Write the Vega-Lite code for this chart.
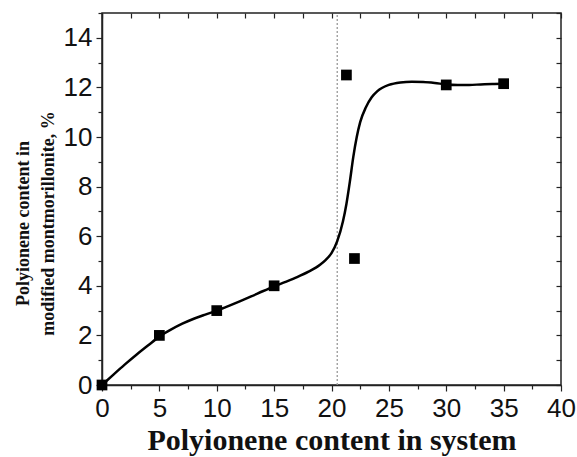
{
  "$schema": "https://vega.github.io/schema/vega-lite/v6.json",
  "width": 459,
  "height": 372,
  "autosize": {"type": "none"},
  "padding": {"left": 102, "top": 13, "right": 16, "bottom": 72},
  "background": "white",
  "config": {
    "view": {"stroke": "#222", "strokeWidth": 1.5},
    "axis": {
      "grid": false,
      "labelFlush": false,
      "domainColor": "#222",
      "domainWidth": 1.5,
      "tickColor": "#222",
      "tickWidth": 1.2,
      "labelFont": "Liberation Sans",
      "labelFontSize": 26,
      "labelColor": "#111",
      "titleFont": "Liberation Serif",
      "titleFontWeight": "bold",
      "titleColor": "#111"
    }
  },
  "datasets": {
    "curve": [
      {"x": 0, "y": 0}, {"x": 1, "y": 0.42}, {"x": 2, "y": 0.83}, {"x": 3, "y": 1.22},
      {"x": 4, "y": 1.59}, {"x": 5, "y": 1.95}, {"x": 6, "y": 2.23}, {"x": 7, "y": 2.47},
      {"x": 8, "y": 2.67}, {"x": 9, "y": 2.84}, {"x": 10, "y": 3.0}, {"x": 11, "y": 3.18},
      {"x": 12, "y": 3.37}, {"x": 13, "y": 3.57}, {"x": 14, "y": 3.78}, {"x": 15, "y": 3.98},
      {"x": 16, "y": 4.16}, {"x": 17, "y": 4.35}, {"x": 18, "y": 4.57}, {"x": 19, "y": 4.85},
      {"x": 19.5, "y": 5.05}, {"x": 20, "y": 5.32}, {"x": 20.5, "y": 5.8}, {"x": 21, "y": 6.6},
      {"x": 21.3, "y": 7.3}, {"x": 21.6, "y": 8.2}, {"x": 21.9, "y": 9.2}, {"x": 22.2, "y": 10.0},
      {"x": 22.5, "y": 10.6}, {"x": 23, "y": 11.2}, {"x": 23.5, "y": 11.6}, {"x": 24, "y": 11.85},
      {"x": 25, "y": 12.1}, {"x": 26, "y": 12.2}, {"x": 27, "y": 12.23}, {"x": 28, "y": 12.22},
      {"x": 29, "y": 12.18}, {"x": 30, "y": 12.12}, {"x": 31, "y": 12.1}, {"x": 32, "y": 12.1},
      {"x": 33, "y": 12.12}, {"x": 34, "y": 12.14}, {"x": 35, "y": 12.15}
    ],
    "points": [
      {"x": 0, "y": 0}, {"x": 5, "y": 2.0}, {"x": 10, "y": 3.0}, {"x": 15, "y": 4.0},
      {"x": 21.3, "y": 12.5}, {"x": 22, "y": 5.1}, {"x": 30, "y": 12.1}, {"x": 35, "y": 12.15}
    ],
    "marker": [{"x": 20.5, "y": 0, "y2": 15}]
  },
  "resolve": {"axis": {"x": "independent", "y": "independent"}},
  "layer": [
    {
      "data": {"name": "marker"},
      "mark": {"type": "rule", "color": "#999", "strokeWidth": 1.3, "strokeDash": [2, 2]},
      "encoding": {
        "x": {"field": "x", "type": "quantitative", "scale": {"domain": [0, 40], "nice": false},
          "axis": {"orient": "top", "labels": false, "title": null, "domain": false, "values": [0, 2.5, 5, 7.5, 10, 12.5, 15, 17.5, 20, 22.5, 25, 27.5, 30, 32.5, 35, 37.5, 40], "tickSize": -5}},
        "y": {"field": "y", "type": "quantitative", "scale": {"domain": [0, 15], "nice": false},
          "axis": {"orient": "right", "labels": false, "title": null, "domain": false, "values": [0, 1, 2, 3, 4, 5, 6, 7, 8, 9, 10, 11, 12, 13, 14, 15], "tickSize": -5}},
        "y2": {"field": "y2"}
      }
    },
    {
      "data": {"name": "curve"},
      "mark": {"type": "line", "color": "#000", "strokeWidth": 2.5, "interpolate": "monotone"},
      "encoding": {
        "x": {"field": "x", "type": "quantitative",
          "axis": {"orient": "bottom", "values": [0, 5, 10, 15, 20, 25, 30, 35, 40], "tickSize": 6, "labelPadding": 4,
            "title": "Polyionene content in system", "titleFontSize": 30, "titlePadding": 4}},
        "y": {"field": "y", "type": "quantitative",
          "axis": {"orient": "left", "values": [0, 2, 4, 6, 8, 10, 12, 14], "tickSize": 6, "labelPadding": 4,
            "title": ["Polyionene content in", "modified montmorillonite, %"], "titleFontSize": 18, "titleLineHeight": 25,
            "titleAlign": "center", "titleX": -74, "titleY": 210, "titleAngle": -90, "titleBaseline": "alphabetic"}}
      }
    },
    {
      "data": {"name": "points"},
      "mark": {"type": "point", "shape": "square", "filled": true, "color": "#000", "opacity": 1, "size": 115},
      "encoding": {
        "x": {"field": "x", "type": "quantitative",
          "axis": {"orient": "bottom", "labels": false, "title": null, "domain": false, "values": [2.5, 7.5, 12.5, 17.5, 22.5, 27.5, 32.5, 37.5], "tickSize": 4}},
        "y": {"field": "y", "type": "quantitative",
          "axis": {"orient": "left", "labels": false, "title": null, "domain": false, "values": [1, 3, 5, 7, 9, 11, 13, 15], "tickSize": 4}}
      }
    }
  ]
}
